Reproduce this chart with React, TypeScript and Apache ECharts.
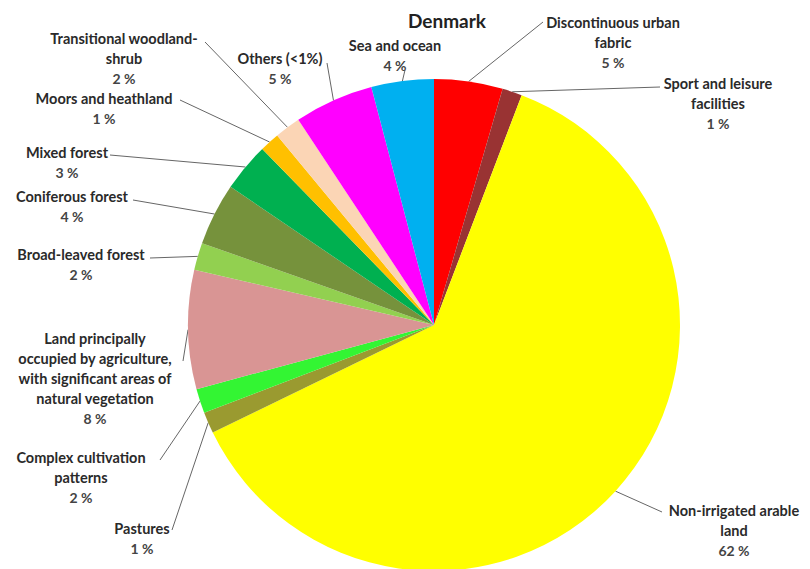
import React, { useEffect, useRef } from "react";
import * as echarts from "echarts";

const categories = [
  "Discontinuous urban\nfabric",
  "Sport and leisure\nfacilities",
  "Non-irrigated arable\nland",
  "Pastures",
  "Complex cultivation\npatterns",
  "Land principally\noccupied by agriculture,\nwith significant areas of\nnatural vegetation",
  "Broad-leaved forest",
  "Coniferous forest",
  "Mixed forest",
  "Moors and heathland",
  "Transitional woodland-\nshrub",
  "Others (<1%)",
  "Sea and ocean",
];

const values = [4.5, 1.3, 62.0, 1.4, 1.6, 7.8, 1.8, 4.1, 3.2, 1.3, 1.7, 5.2, 4.1];

const colors = [
  "#ff0000", "#993333", "#ffff00", "#9a9a30", "#33f533", "#d99594", "#92d050",
  "#76923c", "#00b050", "#ffc000", "#fbd5b5", "#ff00ff", "#00b0f0",
];

// label layout: [text center x, text top y, leader end x, leader end y]
const labelSpots = [
  [613, 12, 543, 22],
  [718, 73, 660, 87],
  [734, 500, 662, 512],
  [142, 518, 172, 530],
  [81, 447, 160, 460],
  [95, 328, 183, 361],
  [81, 244, 150, 258],
  [72, 186, 133, 200],
  [67, 142, 110, 155],
  [104, 88, 180, 100],
  [124, 28, 205, 42],
  [280, 48, 327, 63],
  [395, 35, 405, 70],
];

const FONT = "Lato, 'Open Sans', sans-serif";

export default function App() {
  const ref = useRef<HTMLDivElement>(null);
  useEffect(() => {
    if (!ref.current) return;
    const chart = echarts.init(ref.current, undefined, { renderer: "svg" });
    chart.setOption({
      animation: false,
      backgroundColor: "#ffffff",
      title: {
        text: "Denmark",
        left: 442,
        top: 6,
        textAlign: "center",
        textStyle: { fontFamily: FONT, fontSize: 19, fontWeight: "bold", color: "#222" },
      },
      series: [
        {
          type: "pie",
          center: [434, 325],
          radius: 246,
          startAngle: 90,
          clockwise: true,
          avoidLabelOverlap: false,
          data: categories.map((name, i) => ({
            name,
            value: values[i],
            itemStyle: { color: colors[i] },
          })),
          label: {
            show: true,
            position: "outside",
            formatter: (p: any) => `{n|${p.name}}\n{v|${Math.round(p.value)} %}`,
            rich: {
              n: { fontFamily: FONT, fontSize: 14.5, fontWeight: "bold", color: "#2a2a2a", lineHeight: 20, align: "center" },
              v: { fontFamily: FONT, fontSize: 14, fontWeight: "bold", color: "#444", lineHeight: 20, align: "center" },
            },
            align: "center",
          },
          labelLine: {
            show: true,
            length: 10,
            length2: 10,
            lineStyle: { color: "#666", width: 1 },
          },
          labelLayout: (params: any) => {
            const s = labelSpots[params.dataIndex];
            const start = params.labelLinePoints ? params.labelLinePoints[0] : [s[2], s[3]];
            return {
              x: s[0],
              y: s[1],
              align: "center",
              verticalAlign: "top",
              labelLinePoints: [start, [s[2], s[3]]],
            };
          },
        },
      ],
    });
    return () => chart.dispose();
  }, []);
  return (
    <div
      ref={ref}
      style={{ position: "fixed", left: 0, top: 0, width: 810, height: 569 }}
    />
  );
}
